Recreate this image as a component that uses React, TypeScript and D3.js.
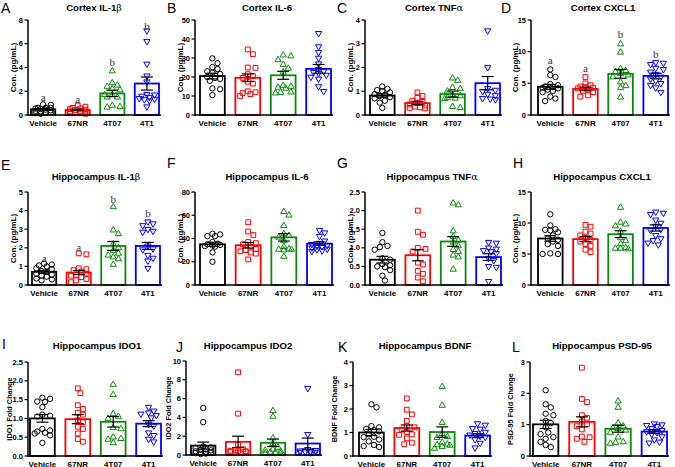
import React from "react";
import * as d3 from "d3";

// ---------- categories & styling ----------
const groups = ["Vehicle", "67NR", "4T07", "4T1"];
const groupColors = ["#000000", "#ff0000", "#0a8a0a", "#0000ff"];
const groupShapes = ["circle", "square", "triUp", "triDown"];

// ---------- data ----------
// A Cortex IL-1b
const aPoints = [
  [0.9, 0.85, 0.6, 0.6, 0.6, 0.55, 0.5, 0.45, 0.4, 0.35, 0.3, 0.25, 0.2, 0.15, 0.1],
  [0.8, 0.7, 0.6, 0.55, 0.5, 0.45, 0.4, 0.35, 0.3, 0.3, 0.25, 0.2, 0.15, 0.1],
  [3.7, 2.7, 2.5, 2.4, 2.2, 2.1, 1.7, 1.7, 1.5, 1.5, 0.8, 0.7, 0.65],
  [7.1, 6.2, 4.3, 3.3, 2.8, 1.75, 1.7, 1.6, 1.5, 1.4, 1.35, 1.3, 1.2, 0.7],
];
const aMean = [0.48, 0.42, 1.82, 2.65];
const aSem = [0.07, 0.06, 0.27, 0.55];
const aTicks = [0, 2, 4, 6, 8];
const aLetters = ["a", "a", "b", "b"];
const aLetterY = [1.2, 1.05, 4.15, 7.2];

// B Cortex IL-6
const bPoints = [
  [29.8, 27.3, 25.2, 24.2, 23, 22.3, 21.6, 20, 19.5, 19, 18, 14, 13.6, 10.5],
  [34.5, 32, 25, 24.8, 21.5, 20.5, 19.5, 17.5, 16.5, 12.5, 12, 11.5, 11, 10],
  [31.5, 31, 29, 26.5, 24.5, 22.5, 15.5, 15, 14.5, 14, 12, 11.8, 11.5],
  [43, 36, 33, 30, 27, 24, 23, 22.5, 22, 21, 20, 19, 15, 12.5],
];
const bMean = [20.5, 19.6, 20.9, 24.3];
const bSem = [1.5, 2.0, 2.1, 2.3];
const bTicks = [0, 10, 20, 30, 40, 50];

// C Cortex TNFa
const cPoints = [
  [1.2, 1.1, 1.05, 1.0, 0.95, 0.88, 0.85, 0.8, 0.75, 0.7, 0.6, 0.52, 0.3],
  [0.95, 0.8, 0.72, 0.6, 0.55, 0.5, 0.45, 0.4, 0.35, 0.32, 0.3, 0.28],
  [1.55, 1.45, 1.15, 1.1, 1.0, 0.85, 0.8, 0.72, 0.7, 0.68, 0.35, 0.3],
  [3.55, 2.0, 1.12, 1.05, 1.0, 0.88, 0.82, 0.7, 0.68, 0.65],
];
const cMean = [0.82, 0.5, 0.88, 1.34];
const cSem = [0.07, 0.07, 0.13, 0.28];
const cTicks = [0, 1, 2, 3, 4];

// D Cortex CXCL1
const dPoints = [
  [7.2, 6.3, 6.0, 4.9, 4.7, 4.5, 4.4, 4.3, 4.2, 4.0, 3.8, 3.6, 2.9, 2.6, 2.2],
  [6.0, 5.0, 4.7, 4.5, 4.4, 4.3, 4.2, 4.0, 3.8, 3.6, 3.1, 2.9],
  [11.2, 9.9, 7.3, 7.0, 6.8, 6.5, 6.3, 6.0, 5.2, 4.6, 4.3, 2.8],
  [8.3, 8.2, 8.0, 7.4, 7.2, 6.8, 6.4, 6.0, 5.7, 5.4, 5.0, 4.7, 4.3, 3.6],
];
const dMean = [4.45, 4.12, 6.5, 6.18];
const dSem = [0.38, 0.28, 0.7, 0.42];
const dTicks = [0, 5, 10, 15];
const dLetters = ["a", "a", "b", "b"];
const dLetterY = [8.0, 6.75, 12.2, 9.0];

// E Hippocampus IL-1b
const ePoints = [
  [1.15, 1.1, 1.05, 1.0, 0.9, 0.85, 0.75, 0.7, 0.6, 0.55, 0.5, 0.45, 0.35, 0.3, 0.25],
  [1.7, 1.65, 0.9, 0.85, 0.8, 0.72, 0.62, 0.55, 0.5, 0.42, 0.32, 0.25, 0.15],
  [4.2, 2.95, 2.75, 2.2, 2.0, 1.85, 1.7, 1.6, 1.5, 1.4, 1.1],
  [3.4, 3.3, 3.2, 3.0, 2.9, 2.85, 2.1, 1.95, 1.9, 1.6, 1.45, 1.3, 0.9],
];
const eMean = [0.71, 0.67, 2.1, 2.1];
const eSem = [0.08, 0.11, 0.24, 0.19];
const eTicks = [0, 1, 2, 3, 4, 5];
const eLetters = ["a", "a", "b", "b"];
const eLetterY = [1.21, 1.85, 4.43, 3.67];

// F Hippocampus IL-6
const fPoints = [
  [44, 43.5, 42, 42, 37, 35.5, 35, 34.5, 34, 33.5, 33, 28, 20],
  [54, 46, 43, 37, 36, 35, 33, 31, 30, 29, 28, 27, 22],
  [63, 60, 51, 44, 42.5, 41, 38, 33, 31, 30.5, 30.5, 30, 24.5],
  [47, 45, 42, 38, 36, 35, 34, 33.5, 33, 32, 31, 30.5, 29.5, 29],
];
const fMean = [35, 34.2, 41, 35.6];
const fSem = [1.8, 2.4, 3.2, 1.5];
const fTicks = [0, 20, 40, 60, 80];

// G Hippocampus TNFa
const gPoints = [
  [1.4, 1.15, 1.05, 1.02, 0.95, 0.72, 0.68, 0.56, 0.53, 0.5, 0.48, 0.4, 0.25, 0.12],
  [2.0, 1.43, 1.35, 1.0, 0.97, 0.9, 0.6, 0.55, 0.38, 0.3, 0.2, 0.1],
  [2.2, 2.15, 1.45, 1.3, 1.2, 1.15, 1.05, 0.95, 0.9, 0.8, 0.75, 0.42],
  [1.15, 1.13, 1.0, 0.97, 0.93, 0.9, 0.85, 0.72, 0.66, 0.5, 0.48, 0.1],
];
const gMean = [0.68, 0.8, 1.17, 0.75];
const gSem = [0.09, 0.15, 0.13, 0.09];
const gTicks = [0, 0.5, 1.0, 1.5, 2.0, 2.5];

// H Hippocampus CXCL1
const hPoints = [
  [11.4, 9.6, 9.0, 8.9, 8.8, 8.5, 8.0, 7.5, 7.3, 7.0, 6.6, 6.3, 5.1, 5.0, 5.0],
  [9.7, 9.4, 8.6, 8.3, 8.0, 7.6, 7.3, 7.0, 6.6, 6.3, 5.7, 5.3],
  [12.5, 10.1, 9.8, 9.5, 8.6, 7.6, 7.1, 6.6, 6.0, 5.9, 5.9, 5.8],
  [11.8, 11.6, 11.4, 10.5, 10.0, 9.5, 9.0, 8.8, 8.0, 7.5, 7.2, 6.8, 6.5],
];
const hMean = [7.5, 7.4, 8.2, 9.2];
const hSem = [0.45, 0.4, 0.55, 0.5];
const hTicks = [0, 5, 10, 15];

// I Hippocampus IDO1
const iPoints = [
  [1.55, 1.52, 1.45, 1.44, 1.3, 1.1, 1.07, 1.05, 0.72, 0.68, 0.65, 0.62, 0.6, 0.55, 0.35],
  [1.8, 1.67, 1.35, 1.25, 1.15, 1.1, 0.95, 0.9, 0.78, 0.72, 0.6, 0.45, 0.38],
  [1.9, 1.63, 1.12, 1.05, 1.0, 0.75, 0.72, 0.5, 0.46, 0.44, 0.35],
  [1.3, 1.2, 1.15, 1.12, 1.08, 1.02, 0.85, 0.8, 0.62, 0.55, 0.45, 0.38],
];
const iMean = [1.0, 0.98, 0.91, 0.86];
const iSem = [0.1, 0.12, 0.14, 0.08];
const iTicks = [0, 0.5, 1.0, 1.5, 2.0, 2.5];

// J Hippocampus IDO2
const jPoints = [
  [5.0, 3.5, 0.9, 0.8, 0.75, 0.6, 0.55, 0.5, 0.4, 0.35, 0.3, 0.25, 0.2, 0.15, 0.1],
  [8.8, 4.4, 1.1, 0.6, 0.5, 0.45, 0.4, 0.4, 0.35, 0.3, 0.3, 0.25],
  [4.7, 4.1, 1.8, 1.2, 0.8, 0.6, 0.5, 0.4, 0.3, 0.25, 0.2, 0.15],
  [7.1, 2.2, 0.6, 0.5, 0.45, 0.4, 0.35, 0.3, 0.3, 0.25],
];
const jMean = [1.0, 1.4, 1.3, 1.22];
const jSem = [0.37, 0.6, 0.4, 0.58];
const jTicks = [0, 2, 4, 6, 8, 10];

// K Hippocampus BDNF
const kPoints = [
  [2.2, 2.07, 1.27, 1.22, 1.15, 1.1, 1.05, 0.92, 0.82, 0.8, 0.7, 0.62, 0.47, 0.42, 0.38],
  [2.45, 1.97, 1.77, 1.5, 1.27, 1.22, 1.12, 1.02, 0.92, 0.9, 0.75, 0.57, 0.5],
  [2.95, 2.15, 1.42, 0.95, 0.82, 0.78, 0.58, 0.5, 0.47, 0.45, 0.4, 0.32],
  [1.38, 1.32, 1.18, 1.15, 1.02, 0.97, 0.9, 0.85, 0.8, 0.7, 0.55, 0.35],
];
const kMean = [1.0, 1.19, 1.02, 0.87];
const kSem = [0.13, 0.13, 0.22, 0.08];
const kTicks = [0, 1, 2, 3, 4];

// L Hippocampus PSD-95
const lPoints = [
  [2.1, 1.65, 1.55, 1.35, 1.3, 1.12, 1.05, 0.92, 0.75, 0.7, 0.6, 0.55, 0.45, 0.35, 0.28],
  [2.82, 1.82, 1.72, 1.3, 1.22, 1.1, 1.02, 0.95, 0.85, 0.62, 0.6, 0.55, 0.45],
  [1.75, 1.55, 1.05, 0.95, 0.9, 0.87, 0.82, 0.75, 0.6, 0.45, 0.43, 0.4],
  [1.03, 1.0, 0.98, 0.95, 0.88, 0.82, 0.78, 0.75, 0.7, 0.62, 0.52, 0.45, 0.42],
];
const lMean = [1.01, 1.09, 0.87, 0.78];
const lSem = [0.13, 0.16, 0.11, 0.06];
const lTicks = [0, 1, 2, 3];

// ---------- panel definitions ----------
type Panel = {
  letter: string; title: string; greek?: string; ylabel: string;
  points: number[][]; mean: number[]; sem: number[]; ticks: number[]; fmt: string;
  letters?: string[]; letterY?: number[];
  axisX: number; barStart: number; barEnd: number; yTop: number; yBot: number;
  titleX: number; titleY: number; letterX: number; letterYpos: number; ylabelX: number; ylabelSize: number;
};

const panels: Panel[] = [
  { letter: "A", title: "Cortex IL-1", greek: "β", ylabel: "Con. (pg/mL)", points: aPoints, mean: aMean, sem: aSem, ticks: aTicks, fmt: "d", letters: aLetters, letterY: aLetterY,
    axisX: 28, barStart: 31, barEnd: 159, yTop: 20, yBot: 115, titleX: 94, titleY: 11, letterX: 1, letterYpos: 13, ylabelX: 14, ylabelSize: 8 },
  { letter: "B", title: "Cortex IL-6", ylabel: "Con. (pg/mL)", points: bPoints, mean: bMean, sem: bSem, ticks: bTicks, fmt: "d",
    axisX: 195, barStart: 200, barEnd: 331, yTop: 20, yBot: 115, titleX: 267, titleY: 11, letterX: 167, letterYpos: 13, ylabelX: 181, ylabelSize: 8 },
  { letter: "C", title: "Cortex TNF", greek: "α", ylabel: "Con. (pg/mL)", points: cPoints, mean: cMean, sem: cSem, ticks: cTicks, fmt: "d",
    axisX: 365, barStart: 370, barEnd: 500, yTop: 20, yBot: 115, titleX: 434, titleY: 11, letterX: 337, letterYpos: 13, ylabelX: 351, ylabelSize: 8 },
  { letter: "D", title: "Cortex CXCL1", ylabel: "Con. (pg/mL)", points: dPoints, mean: dMean, sem: dSem, ticks: dTicks, fmt: "d", letters: dLetters, letterY: dLetterY,
    axisX: 531, barStart: 538, barEnd: 668, yTop: 20, yBot: 115, titleX: 603, titleY: 11, letterX: 501, letterYpos: 13, ylabelX: 516, ylabelSize: 8 },

  { letter: "E", title: "Hippocampus IL-1", greek: "β", ylabel: "Con. (pg/mL)", points: ePoints, mean: eMean, sem: eSem, ticks: eTicks, fmt: "d", letters: eLetters, letterY: eLetterY,
    axisX: 28, barStart: 32, barEnd: 160, yTop: 192, yBot: 285, titleX: 96, titleY: 180, letterX: 1, letterYpos: 170, ylabelX: 14, ylabelSize: 8 },
  { letter: "F", title: "Hippocampus IL-6", ylabel: "Con. (pg/mL)", points: fPoints, mean: fMean, sem: fSem, ticks: fTicks, fmt: "d",
    axisX: 195, barStart: 200, barEnd: 332, yTop: 192, yBot: 285, titleX: 267, titleY: 180, letterX: 167, letterYpos: 168, ylabelX: 181, ylabelSize: 8 },
  { letter: "G", title: "Hippocampus TNF", greek: "α", ylabel: "Con. (pg/mL)", points: gPoints, mean: gMean, sem: gSem, ticks: gTicks, fmt: ".1f",
    axisX: 365, barStart: 370, barEnd: 501, yTop: 192, yBot: 285, titleX: 432, titleY: 180, letterX: 337, letterYpos: 168, ylabelX: 351, ylabelSize: 8 },
  { letter: "H", title: "Hippocampus CXCL1", ylabel: "Con. (pg/mL)", points: hPoints, mean: hMean, sem: hSem, ticks: hTicks, fmt: "d",
    axisX: 531, barStart: 538, barEnd: 668, yTop: 192, yBot: 285, titleX: 602, titleY: 180, letterX: 513, letterYpos: 168, ylabelX: 516, ylabelSize: 8 },

  { letter: "I", title: "Hippocampus IDO1", ylabel: "IDO1 Fold Change", points: iPoints, mean: iMean, sem: iSem, ticks: iTicks, fmt: ".1f",
    axisX: 28, barStart: 30, barEnd: 161, yTop: 362, yBot: 456, titleX: 97, titleY: 349, letterX: 2, letterYpos: 349, ylabelX: 10, ylabelSize: 7.3 },
  { letter: "J", title: "Hippocampus IDO2", ylabel: "IDO2 Fold Change", points: jPoints, mean: jMean, sem: jSem, ticks: jTicks, fmt: "d",
    axisX: 186, barStart: 191, barEnd: 320, yTop: 361, yBot: 455, titleX: 248, titleY: 349, letterX: 176, letterYpos: 352, ylabelX: 169, ylabelSize: 7.3 },
  { letter: "K", title: "Hippocampus BDNF", ylabel: "BDNF Fold Change", points: kPoints, mean: kMean, sem: kSem, ticks: kTicks, fmt: "d",
    axisX: 353, barStart: 359, barEnd: 490, yTop: 362, yBot: 456, titleX: 425, titleY: 349, letterX: 338, letterYpos: 352, ylabelX: 335, ylabelSize: 7.3 },
  { letter: "L", title: "Hippocampus PSD-95", ylabel: "PSD-95 Fold Change", points: lPoints, mean: lMean, sem: lSem, ticks: lTicks, fmt: "d",
    axisX: 530, barStart: 533, barEnd: 667, yTop: 362, yBot: 456, titleX: 602, titleY: 349, letterX: 512, letterYpos: 352, ylabelX: 511, ylabelSize: 7.3 },
];

const FONT = "Arial, 'Liberation Sans', Helvetica, sans-serif";
const DOT = 5.4;

function markerPath(shape: string): string {
  const s = DOT;
  if (shape === "circle") return d3.symbol(d3.symbolCircle, Math.PI * (s / 2) * (s / 2))() as string;
  if (shape === "square") return d3.symbol(d3.symbolSquare, (s - 0.6) * (s - 0.6))() as string;
  return d3.symbol(d3.symbolTriangle, 17)() as string;
}

function swarm(values: number[], y: (v: number) => number, maxOff: number) {
  const order = values.map((v, i) => i).sort((a, b) => values[b] - values[a]);
  const placed: { x: number; y: number }[] = [];
  const xs = new Array(values.length).fill(0);
  const step = DOT * 0.95;
  const cands: number[] = [0];
  for (let k = 1; k * step / 2 <= maxOff; k++) { cands.push(k * step / 2, -k * step / 2); }
  for (const i of order) {
    const yy = y(values[i]);
    let best = 0, bestOverlap = Infinity;
    for (const c of cands) {
      let overlap = 0;
      for (const p of placed) {
        const dist = Math.hypot(p.x - c, p.y - yy);
        if (dist < DOT) overlap += DOT - dist;
      }
      if (overlap === 0) { best = c; bestOverlap = 0; break; }
      if (overlap < bestOverlap) { bestOverlap = overlap; best = c; }
    }
    xs[i] = best;
    placed.push({ x: best, y: yy });
  }
  return xs;
}

function PanelView({ p }: { p: Panel }) {
  const yMax = p.ticks[p.ticks.length - 1];
  const y = d3.scaleLinear().domain([0, yMax]).range([p.yBot, p.yTop]);
  const x = d3.scaleBand<string>().domain(groups).range([p.barStart, p.barEnd]).paddingInner(0.3).paddingOuter(0);
  const bw = x.bandwidth();
  const fmt = d3.format(p.fmt);
  const ylabCenter = (p.yTop + p.yBot) / 2;
  return (
    <g>
      <text x={p.letterX} y={p.letterYpos} fontFamily={FONT} fontSize={14}>{p.letter}</text>
      <text x={p.titleX} y={p.titleY} textAnchor="middle" fontFamily={FONT} fontSize={9.6} fontWeight="bold">
        {p.title}
        {p.greek ? <tspan fontFamily="'DejaVu Serif', serif" fontWeight="normal">{p.greek}</tspan> : null}
      </text>
      <text transform={`translate(${p.ylabelX},${ylabCenter}) rotate(-90)`} textAnchor="middle" dominantBaseline="middle"
        fontFamily={FONT} fontSize={p.ylabelSize} fontWeight="bold">{p.ylabel}</text>
      {groups.map((g, gi) => (
        <rect key={g} x={(x(g) as number)} y={y(p.mean[gi])} width={bw} height={p.yBot - y(p.mean[gi])}
          fill="white" stroke={groupColors[gi]} strokeWidth={1.8} />
      ))}
      {groups.map((g, gi) => {
        const cx = (x(g) as number) + bw / 2;
        const offs = swarm(p.points[gi], y, bw / 2 - 2.5);
        const path = markerPath(groupShapes[gi]);
        return (
          <g key={"pts" + g}>
            {p.points[gi].map((v, vi) => (
              <path key={vi} d={path}
                transform={`translate(${cx + offs[vi]},${y(v)})${groupShapes[gi] === "triDown" ? " rotate(180)" : ""}`}
                fill="none" stroke={groupColors[gi]} strokeWidth={1} />
            ))}
          </g>
        );
      })}
      {groups.map((g, gi) => {
        const cx = (x(g) as number) + bw / 2;
        const y1 = y(p.mean[gi] + p.sem[gi]);
        const y0 = y(p.mean[gi] - p.sem[gi]);
        return (
          <g key={"err" + g} stroke="#000" strokeWidth={1.2}>
            <line x1={cx} x2={cx} y1={y1} y2={y0} />
            <line x1={cx - 6} x2={cx + 6} y1={y1} y2={y1} />
            <line x1={cx - 6} x2={cx + 6} y1={y0} y2={y0} />
          </g>
        );
      })}
      {p.letters ? groups.map((g, gi) => (
        <text key={"sig" + g} x={(x(g) as number) + bw / 2} y={y(p.letterY![gi])} textAnchor="middle"
          fontFamily="'Liberation Serif', 'DejaVu Serif', serif" fontSize={11} fill="#333">{p.letters![gi]}</text>
      )) : null}
      <line x1={p.axisX} x2={p.axisX} y1={p.yTop} y2={p.yBot + 0.75} stroke="#000" strokeWidth={1.5} />
      <line x1={p.axisX - 0.75} x2={p.barEnd + 2} y1={p.yBot} y2={p.yBot} stroke="#000" strokeWidth={1.5} />
      {p.ticks.map((t) => (
        <g key={"t" + t}>
          <line x1={p.axisX - 3.5} x2={p.axisX} y1={y(t)} y2={y(t)} stroke="#000" strokeWidth={1.2} />
          <text x={p.axisX - 5} y={y(t)} dy="0.34em" textAnchor="end" fontFamily={FONT} fontSize={7.5} fontWeight="bold">{fmt(t)}</text>
        </g>
      ))}
      {groups.map((g) => (
        <text key={"xl" + g} x={(x(g) as number) + bw / 2} y={p.yBot + 10.5} textAnchor="middle"
          fontFamily={FONT} fontSize={8} fontWeight="bold">{g}</text>
      ))}
    </g>
  );
}

export default function App() {
  return (
    <svg width={675} height={467} style={{ position: "absolute", left: 0, top: 0, background: "#fff" }}>
      <rect x={0} y={0} width={675} height={467} fill="#fff" />
      {panels.map((p) => <PanelView key={p.letter} p={p} />)}
    </svg>
  );
}
